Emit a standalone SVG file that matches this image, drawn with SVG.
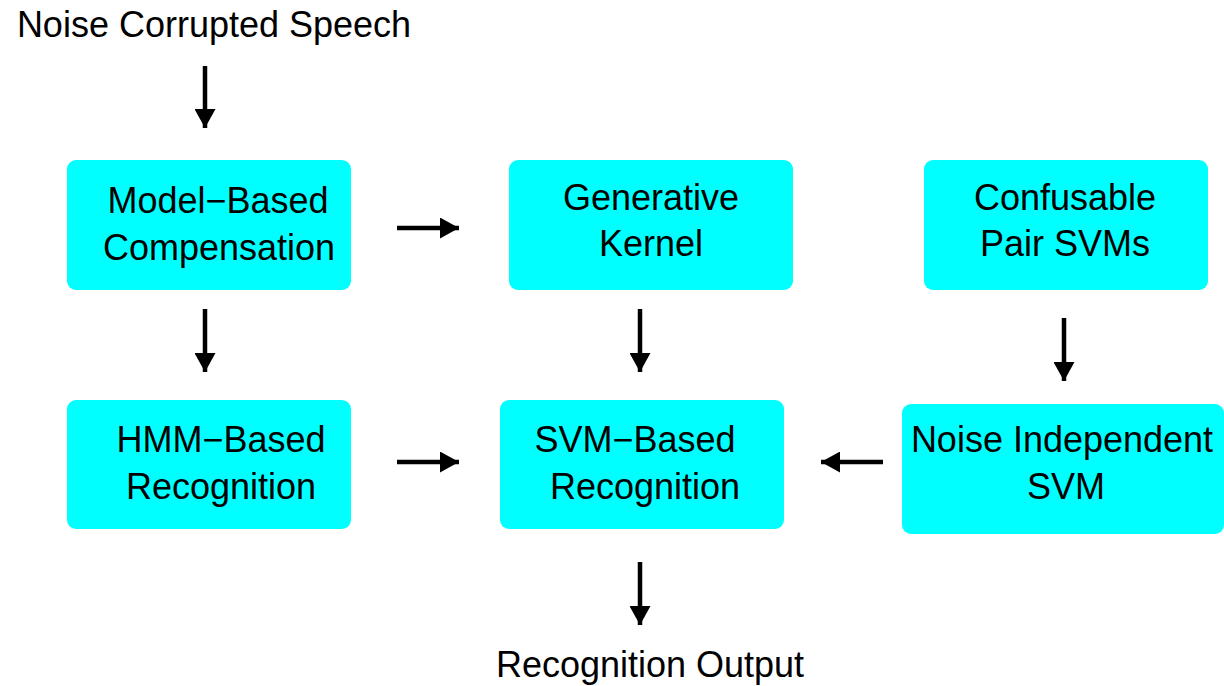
<svg xmlns="http://www.w3.org/2000/svg" width="1224" height="686" viewBox="0 0 1224 686">
<style>
.box{fill:#00ffff;stroke:none}
.t{font-family:"Liberation Sans",Arial,sans-serif;font-size:36px;fill:#000;text-anchor:middle}
.c{stroke:#000;stroke-width:4.5;fill:none}
</style>
<defs>
<marker id="ah" markerUnits="userSpaceOnUse" markerWidth="20" markerHeight="21" viewBox="0 0 19 21" refX="19" refY="10.5" orient="auto">
<path d="M0,0 L19,10.5 L0,21 Z" fill="#000"/>
</marker>
</defs>
<rect width="1224" height="686" fill="#fff"/>
<text class="t" x="214" y="37">Noise Corrupted Speech</text>
<text class="t" x="650" y="677">Recognition Output</text>
<g id="model-based">
<rect class="box" x="67" y="160" width="284" height="130" rx="9"/>
<text class="t" x="218" y="213">Model−Based</text>
<text class="t" x="219" y="260">Compensation</text>
</g>
<g id="generative">
<rect class="box" x="509" y="160" width="284" height="130" rx="9"/>
<text class="t" x="651" y="210">Generative</text>
<text class="t" x="651" y="256">Kernel</text>
</g>
<g id="confusable">
<rect class="box" x="924" y="160" width="284" height="130" rx="9"/>
<text class="t" x="1065" y="210">Confusable</text>
<text class="t" x="1065" y="256">Pair SVMs</text>
</g>
<g id="hmm">
<rect class="box" x="67" y="400" width="284" height="129" rx="9"/>
<text class="t" x="221" y="452">HMM−Based</text>
<text class="t" x="221" y="499">Recognition</text>
</g>
<g id="svm">
<rect class="box" x="500" y="400" width="284" height="129" rx="9"/>
<text class="t" x="635" y="452">SVM−Based</text>
<text class="t" x="645" y="499">Recognition</text>
</g>
<g id="noise-independent">
<rect class="box" x="902" y="404" width="322" height="130" rx="9"/>
<text class="t" x="1062" y="452">Noise Independent</text>
<text class="t" x="1066" y="499">SVM</text>
</g>
<g id="connectors">
<line class="c" x1="205" y1="66" x2="205" y2="128" marker-end="url(#ah)"/>
<line class="c" x1="397" y1="228" x2="459" y2="228" marker-end="url(#ah)"/>
<line class="c" x1="205" y1="309" x2="205" y2="372" marker-end="url(#ah)"/>
<line class="c" x1="640" y1="309" x2="640" y2="372" marker-end="url(#ah)"/>
<line class="c" x1="1064" y1="318" x2="1064" y2="381" marker-end="url(#ah)"/>
<line class="c" x1="397" y1="462" x2="459" y2="462" marker-end="url(#ah)"/>
<line class="c" x1="883" y1="462" x2="821" y2="462" marker-end="url(#ah)"/>
<line class="c" x1="640" y1="562" x2="640" y2="625" marker-end="url(#ah)"/>
</g>
</svg>
